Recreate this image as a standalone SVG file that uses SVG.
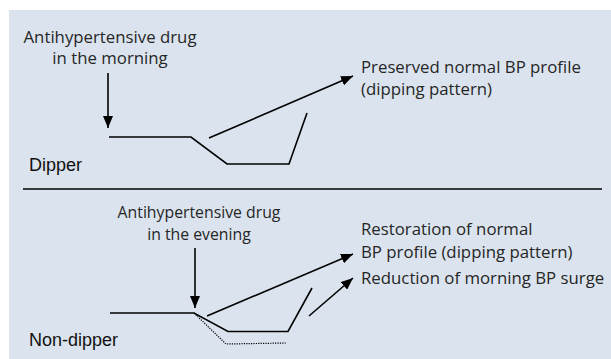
<svg xmlns="http://www.w3.org/2000/svg" width="611" height="359" viewBox="0 0 611 359">
<defs>
<style>
.bg{fill:#dbe4ee}
.t{font-family:"Open Sans","Noto Sans",sans-serif;font-size:16.8px;fill:#262626}
.s{font-size:15.8px}
.lb{font-family:"Liberation Sans",Arial,sans-serif;font-size:18px;fill:#111}
.ln{fill:none;stroke:#000;stroke-width:1.6}
.dot{fill:none;stroke:#000;stroke-width:1.2;stroke-dasharray:1.2 1.2}
</style>
<marker id="ah" viewBox="0 0 12 10" refX="12" refY="5" markerWidth="12" markerHeight="10" markerUnits="userSpaceOnUse" orient="auto">
<path d="M0,0 L12,5 L0,10 Z" fill="#000"/>
</marker>
</defs>
<rect class="bg" x="9" y="10" width="602" height="349"/>
<line x1="23" y1="189" x2="602" y2="189" stroke="#000" stroke-width="1.3"/>
<g id="dipper">
<text class="t" x="110" y="42.5" text-anchor="middle">Antihypertensive drug</text>
<text class="t" x="110" y="64" text-anchor="middle">in the morning</text>
<text class="lb" x="29" y="171">Dipper</text>
<polyline class="ln" points="109,137 191,137 227,164 289,164 307,113"/>
</g>
<g id="dipper-result">
<text class="t" x="361" y="73">Preserved normal BP profile</text>
<text class="t" x="361" y="94.5">(dipping pattern)</text>
</g>
<g id="nondipper">
<text class="t s" x="199" y="218" text-anchor="middle">Antihypertensive drug</text>
<text class="t s" x="199" y="240" text-anchor="middle">in the evening</text>
<text class="lb" x="29" y="346">Non-dipper</text>
<polyline class="ln" points="110,313 194,313 228,331.5 288,331.5 312,288"/>
<polyline class="dot" points="194,313 226,344 286,343"/>
</g>
<g id="nondipper-result">
<text class="t" x="361" y="235">Restoration of normal</text>
<text class="t" x="361" y="258">BP profile (dipping pattern)</text>
<text class="t" x="361" y="284">Reduction of morning BP surge</text>
</g>
<g id="connectors">
<line class="ln" x1="108" y1="73" x2="108" y2="128" marker-end="url(#ah)"/>
<line class="ln" x1="209" y1="138" x2="353" y2="76" marker-end="url(#ah)"/>
<line class="ln" x1="195" y1="248" x2="195" y2="308" marker-end="url(#ah)"/>
<line class="ln" x1="207" y1="316" x2="353" y2="254" marker-end="url(#ah)"/>
<line class="ln" x1="309" y1="316" x2="353" y2="278" marker-end="url(#ah)"/>
</g>
</svg>
